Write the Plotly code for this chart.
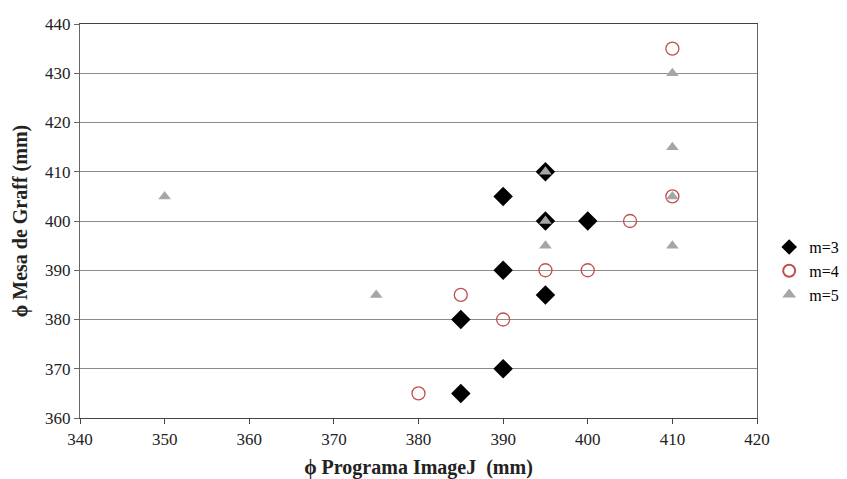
import plotly.graph_objects as go

m3_x = [385, 385, 390, 390, 390, 395, 395, 395, 400]
m3_y = [365, 380, 370, 390, 405, 385, 400, 410, 400]

m4_x = [380, 385, 390, 395, 400, 405, 410, 410]
m4_y = [365, 385, 380, 390, 390, 400, 405, 435]

m5_x = [350, 375, 395, 395, 395, 410, 410, 410, 410]
m5_y = [405, 385, 395, 400, 410, 395, 405, 415, 430]

x_ticks = [340, 350, 360, 370, 380, 390, 400, 410, 420]
y_ticks = [360, 370, 380, 390, 400, 410, 420, 430, 440]

font = "Times New Roman, Liberation Serif, serif"

fig = go.Figure()
fig.add_trace(go.Scatter(x=m3_x, y=m3_y, mode="markers", name="m=3",
                         marker=dict(symbol="diamond", size=15, color="black")))
fig.add_trace(go.Scatter(x=m4_x, y=m4_y, mode="markers", name="m=4",
                         marker=dict(symbol="circle-open", size=13, color="#c0504d",
                                     line=dict(width=1.3, color="#c0504d"))))
fig.add_trace(go.Scatter(x=m5_x, y=m5_y, mode="markers", name="m=5",
                         marker=dict(symbol="triangle-up", size=11, color="#a6a6a6")))

fig.update_layout(
    width=839, height=471,
    margin=dict(l=72, r=90, t=16, b=61, autoexpand=False),
    paper_bgcolor="white", plot_bgcolor="white",
    font=dict(family=font, size=17, color="#222"),
    showlegend=True,
    legend=dict(x=1.018, y=0.373, xanchor="left", yanchor="middle",
                font=dict(family=font, size=16, color="black"),
                itemsizing="constant", tracegroupgap=0, bgcolor="rgba(0,0,0,0)",
                borderwidth=0),
    xaxis=dict(range=[340, 420], tickvals=x_ticks, showgrid=False, zeroline=False,
               showline=True, linecolor="#444", linewidth=1.2, mirror=True,
               ticks="outside", ticklen=5, tickcolor="#444", automargin=False,
               tickfont=dict(family=font, size=17, color="#222"),
               title=dict(text="<b>ϕ Programa ImageJ  (mm)</b>", standoff=12,
                          font=dict(family=font, size=20, color="#222"))),
    yaxis=dict(range=[360, 440], tickvals=y_ticks, showgrid=True, gridcolor="#8c8c8c",
               gridwidth=1, zeroline=False, showline=True, linecolor="#666", linewidth=1,
               mirror=True, ticks="outside", ticklen=5, tickcolor="#666", automargin=False,
               ticklabelstandoff=0,
               tickfont=dict(family=font, size=17, color="#222"),
               title=dict(text="<b>ϕ Mesa de Graff (mm)</b>", standoff=12,
                          font=dict(family=font, size=20, color="#222"))),
)

fig.write_html("out.html")
